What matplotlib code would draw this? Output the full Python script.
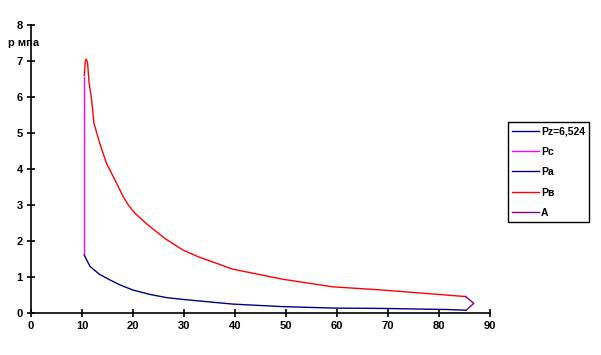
import matplotlib
matplotlib.use('Agg')
import matplotlib.pyplot as plt

# expansion line (Pв)
pv_x = [10.45, 10.55, 10.65, 10.85, 11.1, 11.4, 11.9, 12.35, 13.5, 14.8, 16.5,
        18.1, 19.1, 20.4, 23.0, 26.3, 29.8, 33.1, 39.6, 49.4, 59.2, 69.0, 81.6, 85.3]
pv_y = [6.6, 6.8, 7.0, 7.05, 6.95, 6.39, 5.92, 5.27, 4.71, 4.16, 3.69,
        3.23, 3.0, 2.77, 2.44, 2.07, 1.75, 1.55, 1.22, 0.94, 0.73, 0.64, 0.5, 0.46]

# compression line (Pa)
pa_x = [10.45, 11.6, 13.5, 15.5, 17.5, 20.0, 23.3, 26.6, 29.8, 39.6, 49.4, 59.2, 69.0, 81.6, 85.4]
pa_y = [1.61, 1.29, 1.07, 0.92, 0.78, 0.64, 0.52, 0.43, 0.38, 0.25, 0.18, 0.14, 0.13, 0.1, 0.08]

# combustion at constant volume (Pc)
pc_x = [10.45, 10.45]
pc_y = [1.61, 6.55]

# rounding at bottom dead centre (A)
a_x = [85.3, 86.9, 85.4]
a_y = [0.46, 0.27, 0.08]

pz_x = [10.45]
pz_y = [6.524]

x_ticks = [0, 10, 20, 30, 40, 50, 60, 70, 80, 90]
y_ticks = [0, 1, 2, 3, 4, 5, 6, 7, 8]

plt.rcParams['font.family'] = ['Liberation Sans', 'DejaVu Sans']

fig = plt.figure(figsize=(6.01, 3.55), dpi=100)
ax = fig.add_axes([0.0516, 0.118, 0.763, 0.812])

ax.plot(pz_x, pz_y, color='#000080', lw=1, label='Pz=6,524')
ax.plot(pc_x, pc_y, color='#ff00ff', lw=1, label='Pc')
ax.plot(pa_x, pa_y, color='#000080', lw=1, label='Pa')
ax.plot(pv_x, pv_y, color='#ff0000', lw=1, label='Pв')
ax.plot(a_x, a_y, color='#800080', lw=1, label='A')

ax.set_xlim(0, 90)
ax.set_ylim(0, 8)
ax.set_xticks(x_ticks)
ax.set_yticks(y_ticks)
for s in ['top', 'right']:
    ax.spines[s].set_visible(False)
for s in ['left', 'bottom']:
    ax.spines[s].set_linewidth(1.2)
ax.tick_params(direction='inout', length=6, width=1.2, labelsize=8, pad=3)
for lab in ax.get_xticklabels() + ax.get_yticklabels():
    lab.set_fontweight('bold')

fig.text(0.013, 0.879, 'p мпа', fontsize=8, fontweight='bold', ha='left', va='center')

leg = fig.legend(loc='upper left', bbox_to_anchor=(0.845, 0.656), fancybox=False,
                 edgecolor='black', framealpha=1, handlelength=2.6, labelspacing=1.0,
                 borderpad=0.4, handletextpad=0.2, borderaxespad=0,
                 prop={'size': 7.5, 'weight': 'bold'})
leg.get_frame().set_linewidth(1)

fig.savefig('out.png', dpi=100)
